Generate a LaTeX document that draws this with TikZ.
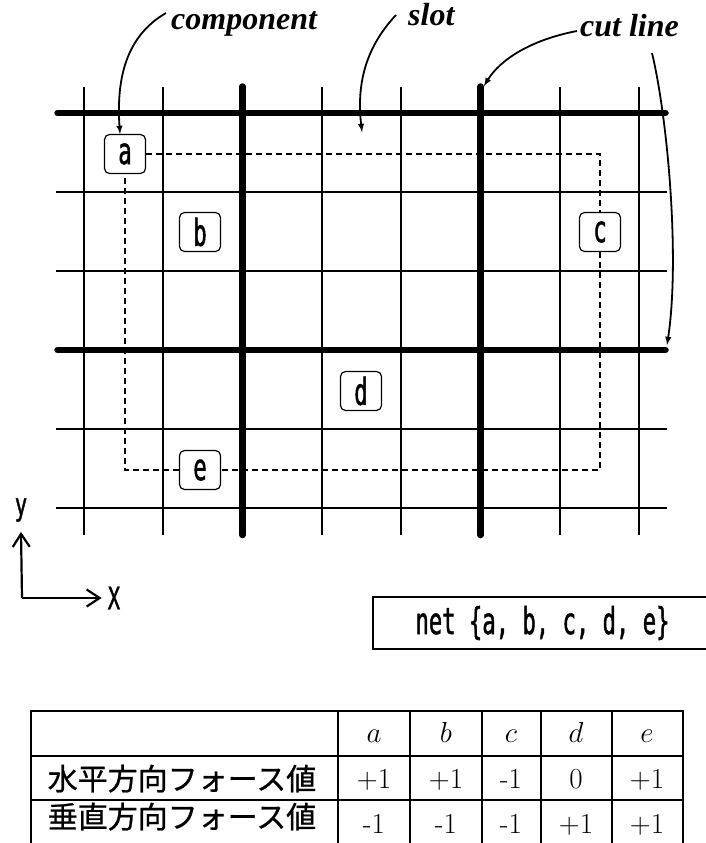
\RequirePackage{fix-cm}
\documentclass[tikz,border=0pt]{standalone}
\usepackage{fontspec}
\newfontfamily\gothic[FakeStretch=0.6, FakeBold=1.2]{DejaVu Sans Mono}
\newfontfamily\axisfont[FakeStretch=0.66, FakeBold=1.2]{DejaVu Sans Mono}
\newfontfamily\jpfont[FakeBold=0.8]{Noto Sans CJK JP}
\newfontfamily\notefont{Liberation Serif}
\usetikzlibrary{arrows,arrows.meta}
\usetikzlibrary{math}

\tikzset{
  slot line/.style={line width=2pt},
  cut line/.style={line width=6.5pt, line cap=round},
  net line/.style={line width=1.8pt, dash pattern=on 6pt off 4pt},
  comp/.style={draw, fill=white, rounded corners=5pt, line width=1.2pt,
    minimum width=41pt, minimum height=39pt, inner sep=0pt,
    font=\gothic\fontsize{37}{37}\selectfont},
  note/.style={anchor=base west, inner sep=0pt,
    font=\notefont\bfseries\itshape\fontsize{32}{32}\selectfont},
  pointer/.style={-latex, line width=1.8pt},
  axis/.style={-{Straight Barb[length=13pt,width=17pt,line width=2.2pt]}, line width=2.2pt},
  axis label/.style={inner sep=0pt, font=\axisfont\fontsize{31}{31}\selectfont},
  cell/.style={anchor=base, inner sep=0pt, font=\fontsize{29}{29}\selectfont},
  jp cell/.style={anchor=base, inner sep=0pt, font=\jpfont\fontsize{30}{30}\selectfont},
}

\begin{document}
\begin{tikzpicture}[x=1pt, y=-1pt]
\tikzmath{
\gx=79.3; \gy=79;
}
\useasboundingbox (0,0) rectangle (706,843);

% slots
\foreach \i in {0,...,7}
  \draw[slot line] (84+\i*\gx,87) -- (84+\i*\gx,535);
\foreach \j in {1,2,4,5}
  \draw[slot line] (56,113+\j*\gy) -- (667,113+\j*\gy);

% cut lines
\foreach \i in {2,5}
  \draw[cut line] (84+\i*\gx,86.5) -- (84+\i*\gx,535);
\foreach \j in {0,3}
  \draw[cut line] (57.5,113+\j*\gy) -- (665.5,113+\j*\gy);

% components and the net
\node[comp] (a) at (125,154) {a};
\node[comp] (b) at (200,232) {b};
\node[comp] (c) at (600,232) {c};
\node[comp] (d) at (361,391) {d};
\node[comp] (e) at (200,470) {e};
\draw[net line] (a) -| (c);
\draw[net line] (c) |- (e);
\draw[net line] (e) -| (a);

% notes
\node[note] (comp-note) at (171,30) {component};
\node[note] (slot-note) at (408,26) {slot};
\node[note] (cut-note) at (580,37) {cut line};
\coordinate (comp-tail) at (166,13);
\coordinate (slot-tail) at (396,15);
\coordinate (slot-pt) at (362,132);
\coordinate (cut-tail) at (577,31);
\coordinate (cut-v) at (484,86);
\coordinate (cut-tail2) at (652,53);
\coordinate (cut-h) at (667,345);
\draw[pointer] (comp-tail) .. controls (128,35) and (116,75) .. ([xshift=-5pt]a.north);
\draw[pointer] (slot-tail) .. controls (368,45) and (356,80) .. (slot-pt);
\draw[pointer] (cut-tail) .. controls (530,40) and (500,60) .. (cut-v);
\draw[pointer] (cut-tail2) .. controls (668,120) and (680,260) .. (cut-h);

% axes
\coordinate (o) at (22,598);
\node[axis label] (ylab) at (21,510) {y};
\node[axis label] (xlab) at (114,598) {X};
\draw[axis] (o) -- ([yshift=-10pt]ylab.south);
\draw[axis] (o) -- ([xshift=-6pt]xlab.west);

\node[draw, line width=2.5pt, minimum width=339pt, minimum height=52pt, inner sep=0pt,
  font=\gothic\fontsize{37}{37}\selectfont] (net) at (542.5,623) {net \{a, b, c, d, e\}};

% force table
\draw[line width=2.5pt] (31,843) -- (31,711) -- (683,711) -- (683,843);
\foreach \x in {338,410,482,541,612}
  \draw[line width=2pt] (\x,711) -- (\x,843);
\foreach \y in {756,800}
  \draw[line width=1.8pt] (31,\y) -- (683,\y);
\node[jp cell] (hor) at (182,790) {水平方向フォース値};
\node[jp cell] (ver) at (182,828) {垂直方向フォース値};
\foreach \n/\x/\u/\v in {a/374/+1/-1, b/446/+1/-1, c/511/-1/-1, d/576/0/+1, e/647/+1/+1} {
  \node[cell] (head-\n) at (\x,742) {$\n$};
  \node[cell] (hor-\n) at (\x,788) {\u};
  \node[cell] (ver-\n) at (\x,833) {\v};
}
\end{tikzpicture}
\end{document}
